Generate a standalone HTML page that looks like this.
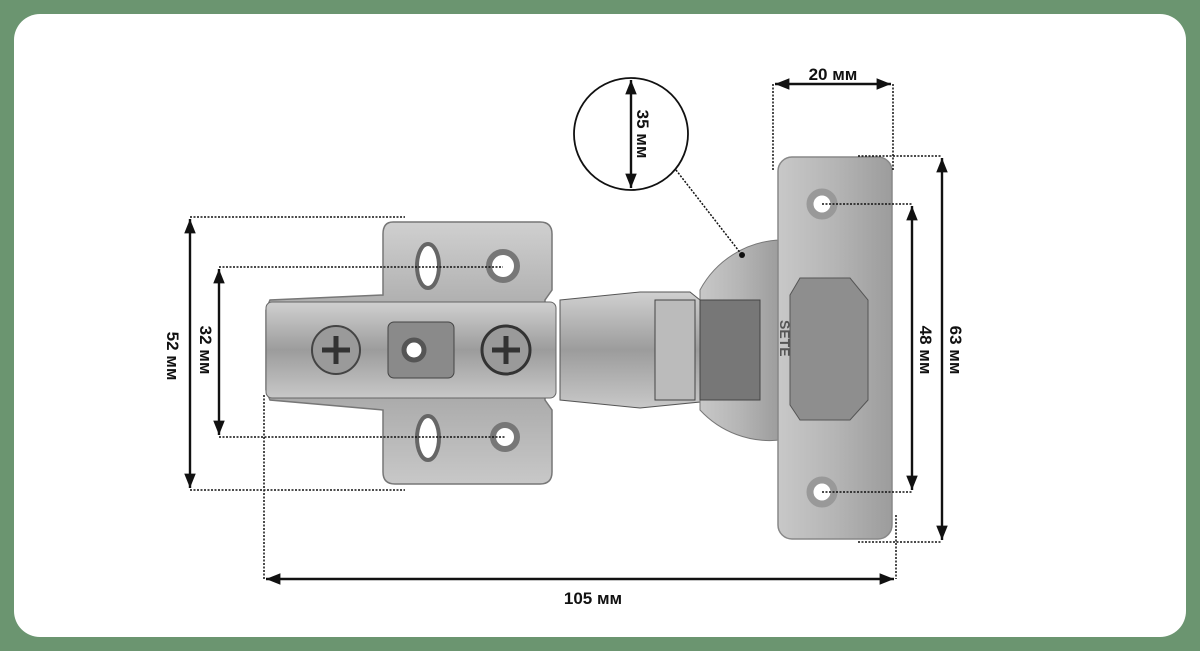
<!DOCTYPE html>
<html><head><meta charset="utf-8"><style>
html,body{margin:0;padding:0;width:1200px;height:651px;overflow:hidden;background:#6b9570}
svg{display:block}
text{font-family:"Liberation Sans",sans-serif;font-weight:bold;font-size:17px;fill:#111}
</style></head><body>
<svg width="1200" height="651" viewBox="0 0 1200 651">
<defs>
<linearGradient id="m" x1="0" y1="0" x2="0" y2="1"><stop offset="0" stop-color="#d0d0d0"/><stop offset="0.5" stop-color="#9c9c9c"/><stop offset="1" stop-color="#c8c8c8"/></linearGradient>
<linearGradient id="m2" x1="0" y1="0" x2="1" y2="0"><stop offset="0" stop-color="#c8c8c8"/><stop offset="0.5" stop-color="#b5b5b5"/><stop offset="1" stop-color="#9c9c9c"/></linearGradient>
<marker id="a" viewBox="0 0 10 10" refX="10" refY="5" markerWidth="6" markerHeight="6" orient="auto-start-reverse"><path d="M0,1 L10,5 L0,9 z" fill="#111"/></marker>
</defs>
<rect x="14" y="14" width="1172" height="623" rx="26" fill="#fff"/>
<!-- mounting plate -->
<path d="M393,222 L540,222 Q552,222 552,234 L552,290 L545,300 L545,400 L552,410 L552,472 Q552,484 540,484 L395,484 Q383,484 383,472 L383,410 L270,400 L266,390 L266,310 L270,300 L383,295 L383,234 Q383,222 393,222 z" fill="url(#m)" stroke="#777" stroke-width="1.5"/>
<rect x="266" y="302" width="290" height="96" rx="6" fill="url(#m)" stroke="#666"/>
<ellipse cx="428" cy="266" rx="11" ry="22" fill="#fff" stroke="#666" stroke-width="4"/>
<ellipse cx="428" cy="438" rx="11" ry="22" fill="#fff" stroke="#666" stroke-width="4"/>
<circle cx="503" cy="266" r="14" fill="#fff" stroke="#777" stroke-width="6"/>
<circle cx="505" cy="437" r="12" fill="#fff" stroke="#777" stroke-width="6"/>
<rect x="388" y="322" width="66" height="56" rx="6" fill="#8a8a8a" stroke="#444"/>
<circle cx="414" cy="350" r="10" fill="#fff" stroke="#555" stroke-width="5"/>
<circle cx="336" cy="350" r="24" fill="#9a9a9a" stroke="#444" stroke-width="2"/>
<path d="M322,350 h28 M336,336 v28" stroke="#333" stroke-width="5"/>
<circle cx="506" cy="350" r="24" fill="#9a9a9a" stroke="#333" stroke-width="3"/>
<path d="M492,350 h28 M506,336 v28" stroke="#333" stroke-width="5"/>
<!-- arm -->
<path d="M560,300 L640,292 L690,292 L700,300 L700,402 L640,408 L560,400 z" fill="url(#m)" stroke="#555"/>
<rect x="655" y="300" width="40" height="100" fill="#bbb" stroke="#444"/>
<!-- cup -->
<path d="M700,290 A95,95 0 0 1 780,240 L780,440 A95,95 0 0 1 700,410 z" fill="url(#m2)" stroke="#777"/>
<path d="M700,300 L760,300 L760,400 L700,400 z" fill="#777" stroke="#444"/>
<!-- plate -->
<rect x="778" y="157" width="114" height="382" rx="14" fill="url(#m2)" stroke="#888" stroke-width="1.5"/>
<path d="M800,278 L850,278 L868,300 L868,400 L850,420 L800,420 L790,405 L790,295 z" fill="#8e8e8e" stroke="#555"/>
<text x="0" y="0" transform="translate(780,320) rotate(90)" style="font-size:14px;fill:#555">SETE</text>
<circle cx="822" cy="204" r="12" fill="#fff" stroke="#999" stroke-width="7"/>
<circle cx="822" cy="492" r="12" fill="#fff" stroke="#999" stroke-width="7"/>
<!-- dimension lines -->
<g stroke="#111" stroke-width="1.5" fill="none" stroke-dasharray="2,1.5">
<line x1="773" y1="84" x2="773" y2="170"/><line x1="893" y1="84" x2="893" y2="170"/>
<line x1="858" y1="156" x2="942" y2="156"/><line x1="858" y1="542" x2="942" y2="542"/>
<line x1="822" y1="204" x2="912" y2="204"/><line x1="822" y1="492" x2="912" y2="492"/>
<line x1="190" y1="217" x2="405" y2="217"/><line x1="190" y1="490" x2="405" y2="490"/>
<line x1="219" y1="267" x2="503" y2="267"/><line x1="219" y1="437" x2="505" y2="437"/>
<line x1="264" y1="395" x2="264" y2="579"/><line x1="896" y1="515" x2="896" y2="579"/>
<line x1="676" y1="170" x2="742" y2="255"/>
</g>
<circle cx="742" cy="255" r="3" fill="#111"/>
<g stroke="#111" stroke-width="2.4" fill="none">
<line x1="775" y1="84" x2="891" y2="84" marker-start="url(#a)" marker-end="url(#a)"/>
<line x1="942" y1="158" x2="942" y2="540" marker-start="url(#a)" marker-end="url(#a)"/>
<line x1="912" y1="206" x2="912" y2="490" marker-start="url(#a)" marker-end="url(#a)"/>
<line x1="190" y1="219" x2="190" y2="488" marker-start="url(#a)" marker-end="url(#a)"/>
<line x1="219" y1="269" x2="219" y2="435" marker-start="url(#a)" marker-end="url(#a)"/>
<line x1="266" y1="579" x2="894" y2="579" marker-start="url(#a)" marker-end="url(#a)"/>
<ellipse cx="631" cy="134" rx="57" ry="56" stroke-width="1.8"/>
<line x1="631" y1="80" x2="631" y2="188" marker-start="url(#a)" marker-end="url(#a)"/>
</g>
<text x="833" y="80" text-anchor="middle">20 мм</text>
<text x="593" y="604" text-anchor="middle">105 мм</text>
<text transform="translate(950,350) rotate(90)" text-anchor="middle">63 мм</text>
<text transform="translate(920,350) rotate(90)" text-anchor="middle">48 мм</text>
<text transform="translate(167,356) rotate(90)" text-anchor="middle">52 мм</text>
<text transform="translate(200,350) rotate(90)" text-anchor="middle">32 мм</text>
<text transform="translate(637,134) rotate(90)" text-anchor="middle">35 мм</text>
</svg>
</body></html>
